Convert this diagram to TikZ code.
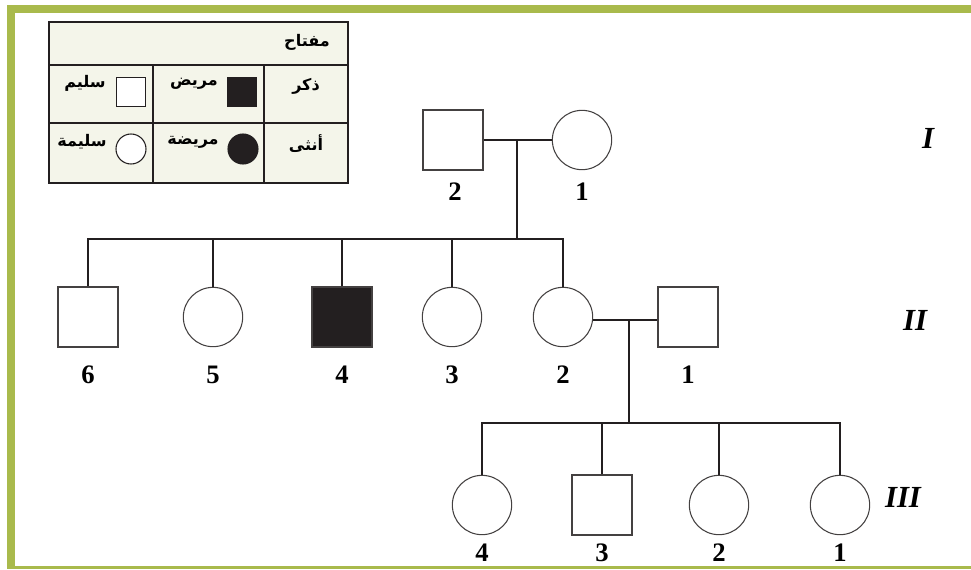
\documentclass[tikz,border=0pt]{standalone}
\usepackage{fontspec}
\setmainfont{Liberation Serif}
\newfontfamily\arabicfont[Script=Arabic]{DejaVu Sans}
\TeXXeTstate=1
\usetikzlibrary{calc}
\definecolor{frame}{HTML}{A9BA4C}
\definecolor{ink}{HTML}{231F20}
\definecolor{keyfill}{HTML}{F4F5EA}
\begin{document}
\begin{tikzpicture}[x=0.75pt,y=-0.75pt,
  male/.style={draw=ink!85,line width=0.8pt,rectangle,minimum size=45pt,inner sep=0pt,fill=white},
  female/.style={draw=ink!85,line width=0.8pt,circle,minimum size=44.5pt,inner sep=0pt,fill=white},
  affected/.style={fill=ink},
  link/.style={draw=ink,line width=1.9pt},
  num/.style={font=\fontsize{20}{22}\selectfont\bfseries,inner sep=0pt},
  gen/.style={font=\fontsize{23}{25}\selectfont\bfseries\itshape,inner sep=0pt},
  ar/.style={font=\arabicfont\fontsize{12}{14}\selectfont\bfseries,inner sep=0pt},
  keysym/.style={line width=0.8pt,inner sep=0pt},
]
\useasboundingbox (0,0) rectangle (971,569);
% frame
\fill[frame] (7,5) rectangle (971,12.5);
\fill[frame] (7,5) rectangle (14.5,568);
\fill[frame] (7,566) rectangle (971,568.5);

% legend
\draw[ink,line width=2pt,fill=keyfill] (49,22) rectangle (348,183);
\draw[ink,line width=1.7pt] (49,65) -- (348,65);
\draw[ink,line width=1.7pt] (49,123) -- (348,123);
\draw[ink,line width=1.7pt] (153,65) -- (153,183);
\draw[ink,line width=1.7pt] (264,65) -- (264,183);
\node[ar,anchor=east] (kt) at (330,42) {\beginR مفتاح\endR};
\node[ar] (km) at (306,86) {\beginR ذكر\endR};
\node[ar] (kf) at (306,144) {\beginR أنثى\endR};
\node[keysym,rectangle,minimum size=22pt,fill=ink,draw=ink] (kam) at (242,92) {};
\node[ar] (kamt) at (194,84) {\beginR مريض\endR};
\node[keysym,rectangle,minimum size=22pt,fill=white,draw=ink] (khm) at (131,92) {};
\node[ar] (khmt) at (85,83) {\beginR سليم\endR};
\node[keysym,circle,minimum size=22.5pt,fill=ink,draw=ink] (kaf) at (243,149) {};
\node[ar] (kaft) at (193,142) {\beginR مريضة\endR};
\node[keysym,circle,minimum size=22.5pt,fill=white,draw=ink] (khf) at (131,149) {};
\node[ar] (khft) at (82,142) {\beginR سليمة\endR};

% generation labels
\node[gen] (gI) at (928,138) {I};
\node[gen] (gII) at (915,320) {II};
\node[gen] (gIII) at (903,497) {III};

% generation I
\node[male] (I2) at (453,140) {};
\node[female] (I1) at (582,140) {};
\node[num] at (455,192) {2};
\node[num] at (582,192) {1};
\coordinate (j1) at (517,140);
\coordinate (s2) at (517,239);
\draw[link] (I2.east) -- (I1.west);
\draw[link] (j1) -- (s2);

% generation II
\node[male] (II6) at (88,317) {};
\node[female] (II5) at (213,317) {};
\node[male,affected] (II4) at (342,317) {};
\node[female] (II3) at (452,317) {};
\node[female] (II2) at (563,317) {};
\node[male] (II1) at (688,317) {};
\node[num] at (88,375) {6};
\node[num] at (213,375) {5};
\node[num] at (342,375) {4};
\node[num] at (452,375) {3};
\node[num] at (563,375) {2};
\node[num] at (688,375) {1};
\draw[link] (II6.north) -- (II6.north |- s2) -- (II2.north |- s2) -- (II2.north);
\draw[link] (II5.north) -- (II5.north |- s2);
\draw[link] (II4.north) -- (II4.north |- s2);
\draw[link] (II3.north) -- (II3.north |- s2);
\coordinate (j2) at (629,320);
\coordinate (s3) at (629,423);
\draw[link] ($(II2.east)+(0,3)$) -- ($(II1.west)+(0,3)$);
\draw[link] (j2) -- (s3);

% generation III
\node[female] (III4) at (482,505) {};
\node[male] (III3) at (602,505) {};
\node[female] (III2) at (719,505) {};
\node[female] (III1) at (840,505) {};
\node[num] at (482,553) {4};
\node[num] at (602,553) {3};
\node[num] at (719,553) {2};
\node[num] at (840,553) {1};
\draw[link] (III4.north) -- (III4.north |- s3) -- (III1.north |- s3) -- (III1.north);
\draw[link] (III3.north) -- (III3.north |- s3);
\draw[link] (III2.north) -- (III2.north |- s3);
\end{tikzpicture}
\end{document}
